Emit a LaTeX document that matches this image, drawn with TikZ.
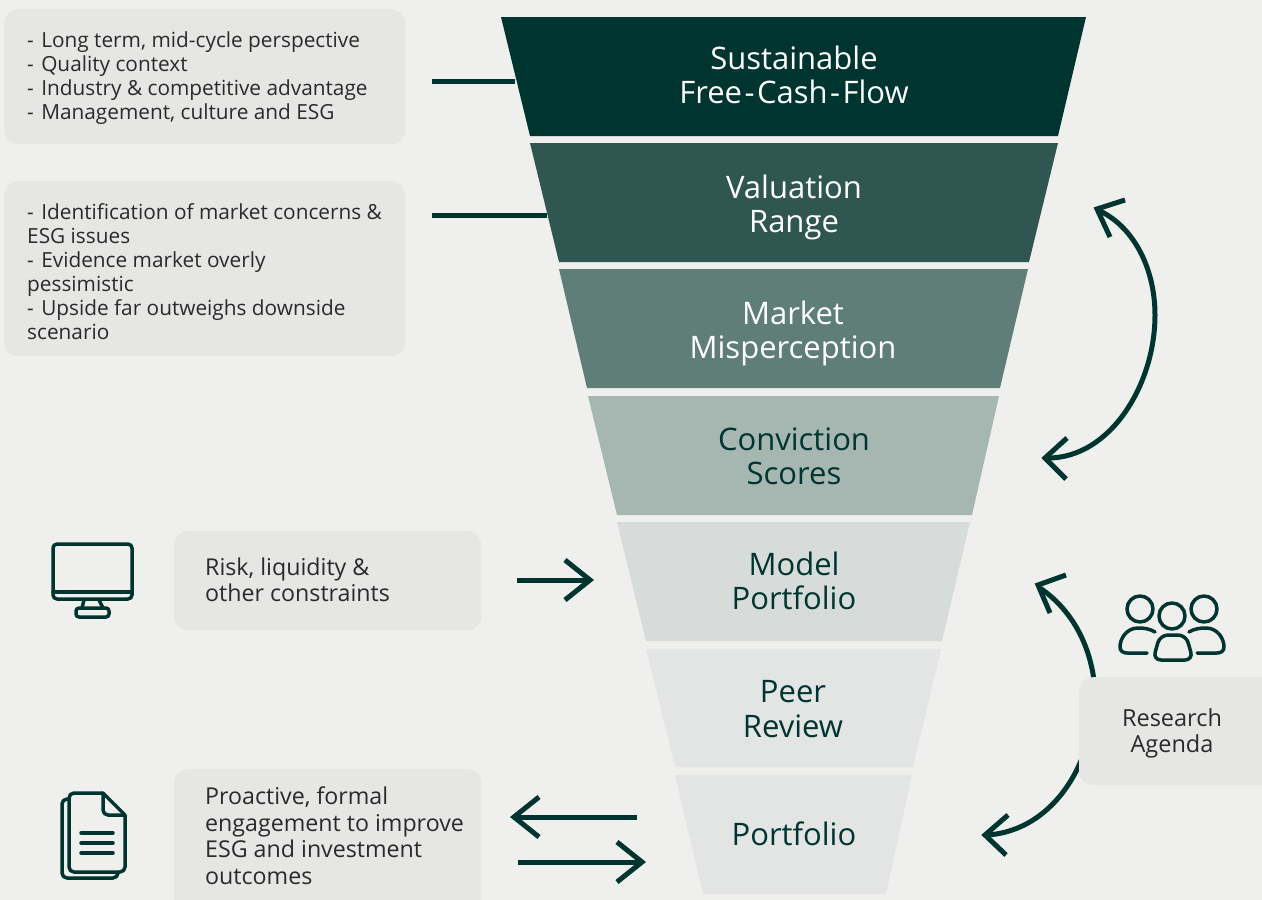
\documentclass[tikz,border=0pt]{standalone}
\usepackage{fontspec}
\setmainfont{Open Sans}
\usetikzlibrary{arrows.meta}
\definecolor{bgc}{HTML}{EFEFED}
\definecolor{boxc}{HTML}{E6E6E5}
\definecolor{dk}{HTML}{00352F}
\definecolor{tb}{HTML}{305651}
\definecolor{tc}{HTML}{5F7E78}
\definecolor{td}{HTML}{A6B6B1}
\definecolor{te}{HTML}{D7DCDA}
\definecolor{tf}{HTML}{E3E5E4}
\definecolor{txt}{HTML}{2A2A2A}
\tikzset{
  x=1pt,y=-1pt,
  greybox/.style={fill=boxc,rounded corners=14pt,inner sep=0pt,anchor=north west},
  tiertext/.style={align=center,inner sep=0pt,font=\fontsize{31}{34.3}\selectfont},
  note/.style={align=left,inner sep=0pt,anchor=north west,text=txt,font=\fontsize{20.8}{24}\selectfont},
  note2/.style={align=left,inner sep=0pt,anchor=north west,text=txt,font=\fontsize{23.2}{26.6}\selectfont},
  conn/.style={draw=dk,line width=5pt},
  arr/.style={conn,-{Straight Barb[length=25pt,width=40pt,line width=5pt]}},
  icon/.style={draw=dk,line width=3.5pt,line cap=round,line join=round},
}
\begin{document}
\begin{tikzpicture}
\useasboundingbox (0,0) rectangle (1262,900);
\fill[bgc] (0,0) rectangle (1262,900);
% tiers
\fill[dk] (501,17)--(1086,17)--(1058,136)--(530,136)--cycle;
\fill[tb] (530,143)--(1058,143)--(1029,262)--(559,262)--cycle;
\fill[tc] (559,269)--(1028,269)--(1000,388)--(587,388)--cycle;
\fill[td] (588,396)--(999,396)--(972,515)--(617,515)--cycle;
\fill[te] (617,522)--(970,522)--(942,641)--(646,641)--cycle;
\fill[tf] (646,649)--(941,649)--(913,767)--(675,767)--cycle;
\fill[tf] (675,775)--(912,775)--(886,894)--(703,894)--cycle;
\node[tiertext,text=white] (t1) at (794,75) {Sustainable\\Free\kern2.5pt-\kern2.5pt Cash\kern2.5pt-\kern2.5pt Flow};
\node[tiertext,text=white] (t2) at (794,207.5) {Valuation\\Range};
\node[tiertext,text=white] (t3) at (793,333.5) {Market\\Misperception};
\node[tiertext,text=dk] (t4) at (794,456.5) {Conviction\\Scores};
\node[tiertext,text=dk] (t5) at (794,581) {Model\\Portfolio};
\node[tiertext,text=dk] (t6) at (793,709) {Peer\\Review};
\node[tiertext,text=dk] (t7) at (794,834) {Portfolio};
% connector ends
\coordinate (a1) at (515,81.5);
\coordinate (a2) at (547,215);
\coordinate (s1) at (432,81.5);
\coordinate (s2) at (432,215);
\draw[conn] (s1)--(a1);
\draw[conn] (s2)--(a2);
\coordinate (r1) at (517,580);
\coordinate (r2) at (594,580);
\draw[arr] (r1)--(r2);
\coordinate (l1) at (637,817);
\coordinate (l2) at (510,817);
\draw[arr] (l1)--(l2);
\coordinate (m1) at (518,862);
\coordinate (m2) at (646,862);
\draw[arr] (m1)--(m2);
% curved arrows
\coordinate (c1) at (1097,209);
\coordinate (c2) at (1155,315);
\coordinate (c3) at (1045,458);
\draw[conn] (1100,211) .. controls (1135,228) and (1155,270) .. (c2) .. controls (1155,385) and (1110,458) .. (1048,458);
\draw[conn] (1125,200)--(c1)--(1110,237);
\draw[conn] (1067,438)--(c3)--(1066,479);
\coordinate (u1) at (1095,690);
\coordinate (u2) at (1038,585);
\draw[conn] (u1) .. controls (1092,650) and (1075,612) .. (1040,588);
\draw[conn] (1066,575)--(u2)--(1050,613);
\coordinate (d1) at (1085,750);
\coordinate (d2) at (985,835);
\draw[conn] (d1) .. controls (1070,795) and (1035,832) .. (987,835);
\draw[conn] (1008,815)--(d2)--(1006,855);
% boxes
\node[greybox,minimum width=401pt,minimum height=135pt] (b1) at (4,9) {};
\node[greybox,minimum width=401pt,minimum height=175pt] (b2) at (4,181) {};
\node[greybox,minimum width=307pt,minimum height=99pt] (b3) at (174,531) {};
\node[greybox,minimum width=307pt,minimum height=150pt] (b4) at (174,769) {};
\node[greybox,minimum width=210pt,minimum height=108pt] (b5) at (1079,677) {};
\node[note] (n1) at (27,31.5) {-\kern2pt\ Long term, mid-cycle perspective\\-\kern2pt\ Quality context\\-\kern2pt\ Industry \& competitive advantage\\-\kern2pt\ Management, culture and ESG};
\node[note] (n2) at (27,203.5) {-\kern2pt\ Identification of market concerns \&\\ESG issues\\-\kern2pt\ Evidence market overly\\pessimistic\\-\kern2pt\ Upside far outweighs downside\\scenario};
\node[note2] (n3) at (205,557.5) {Risk, liquidity \&\\other constraints};
\node[note2] (n4) at (205,786.5) {Proactive, formal\\engagement to improve\\ESG and investment\\outcomes};
\node[align=center,inner sep=0pt,text=txt,font=\fontsize{23.5}{26.6}\selectfont] (n5) at (1172,733.5) {Research\\Agenda};
% monitor
\draw[icon,rounded corners=4pt] (53,544) rectangle (132,599);
\draw[icon] (53,592)--(132,592);
\draw[icon] (84,600)--(82,608);
\draw[icon] (99,600)--(103,608);
\draw[icon,rounded corners=3pt] (76,617)--(76,608)--(109,608)--(109,617)--cycle;
% document
\draw[icon,rounded corners=5pt] (103,793)--(69,793)--(69,872)--(125,872)--(125,815);
\draw[icon] (103,793)--(125,815);
\draw[icon,rounded corners=5pt] (103,793)--(103,815)--(125,815);
\draw[icon,rounded corners=5pt] (69,799)--(62,799)--(62,878)--(118,878)--(118,872);
\draw[icon] (81,833)--(113,833) (81,843)--(113,843) (81,853)--(113,853);
% people
\draw[icon] (1172,616) circle (13);
\draw[icon] (1140,609) circle (13);
\draw[icon] (1204,609) circle (13);
\draw[icon,rounded corners=8pt] (1160,635)--(1186,635)--(1193,660)--(1153,660)--cycle;
\draw[icon] (1155,632) .. controls (1150,629) and (1145,628) .. (1138,628) .. controls (1127,628) and (1120,638) .. (1120,647) .. controls (1120,651) and (1123,653) .. (1127,653) -- (1147,653);
\draw[icon] (1189,632) .. controls (1194,629) and (1199,628) .. (1206,628) .. controls (1217,628) and (1224,638) .. (1224,647) .. controls (1224,651) and (1221,653) .. (1217,653) -- (1197,653);
\end{tikzpicture}
\end{document}
